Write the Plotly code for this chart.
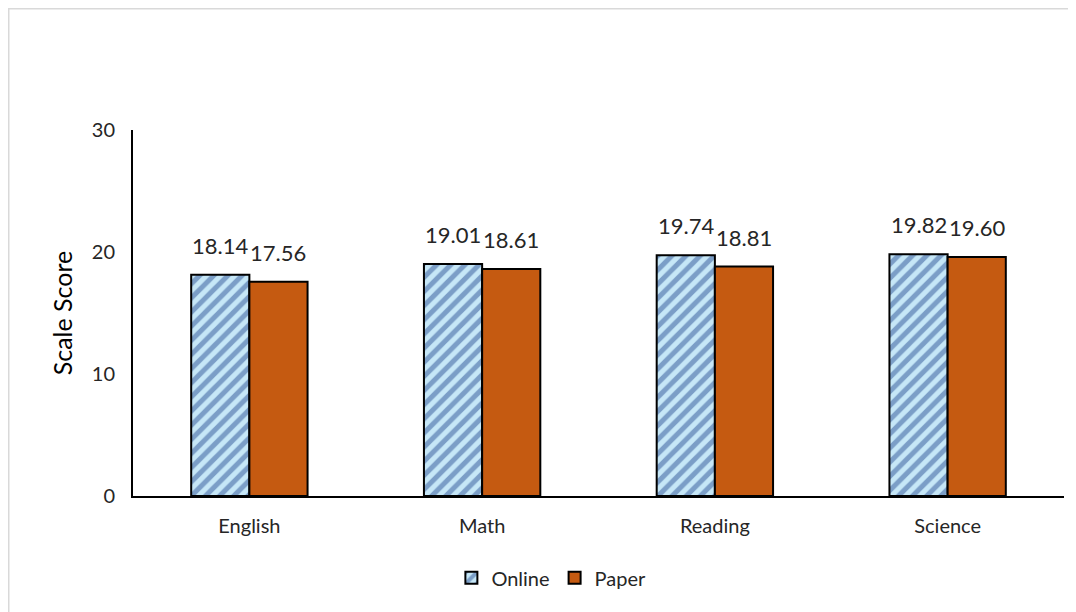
import plotly.graph_objects as go

subjects = ['English', 'Math', 'Reading', 'Science']
online = [18.14, 19.01, 19.74, 19.82]
paper = [17.56, 18.61, 18.81, 19.60]
y_ticks = [0, 10, 20, 30]

FONT = 'Lato'
TEXT = '#262626'

fig = go.Figure()

fig.add_trace(go.Bar(
    x=subjects, y=online, name='Online',
    marker=dict(
        color='#C6E7F7',
        line=dict(color='black', width=2),
        pattern=dict(shape='/', fgcolor='#2F5597', bgcolor='#C6E7F7',
                     size=10, solidity=0.5),
    ),
))

fig.add_trace(go.Bar(
    x=subjects, y=paper, name='Paper',
    marker=dict(color='#C55A11', line=dict(color='black', width=2)),
))

# value labels, lifted a little above each bar like the Excel original
for series, shift in ((online, -29), (paper, 29)):
    for cat, val in zip(subjects, series):
        fig.add_annotation(
            x=cat, y=val, xshift=shift, yshift=14,
            text=f'{val:.2f}', showarrow=False, yanchor='bottom',
            font=dict(size=22, color=TEXT),
        )

fig.update_layout(
    width=1076, height=612,
    paper_bgcolor='white', plot_bgcolor='white',
    font=dict(family=FONT, color=TEXT, size=20),
    barmode='group', bargap=0.5, bargroupgap=0,
    margin=dict(l=125, r=20, t=122, b=124),
    showlegend=True,
    legend=dict(orientation='h', xref='container', yref='container',
                x=0.505, y=0.069, xanchor='center', yanchor='middle',
                font=dict(size=20), itemwidth=30, traceorder='normal'),
)

fig.update_yaxes(
    range=[0, 30], tickvals=y_ticks, showgrid=False,
    showline=True, linecolor='black', linewidth=2,
    ticks='', ticklabelstandoff=12,
    title=dict(text='Scale Score', font=dict(size=25, color='black'), standoff=12),
    tickfont=dict(size=20),
)
fig.update_xaxes(
    showline=True, linecolor='black', linewidth=2, ticks='',
    ticklabelstandoff=11, tickfont=dict(size=20),
)

# light grey chart frame along the figure edge
fig.add_shape(type='rect', xref='paper', yref='paper',
              x0=-125 / 931, x1=1.2, y0=-0.5, y1=1 + 122 / 366,
              line=dict(color='#D9D9D9', width=3), fillcolor='rgba(0,0,0,0)',
              layer='below')

fig.write_html('out.html')
